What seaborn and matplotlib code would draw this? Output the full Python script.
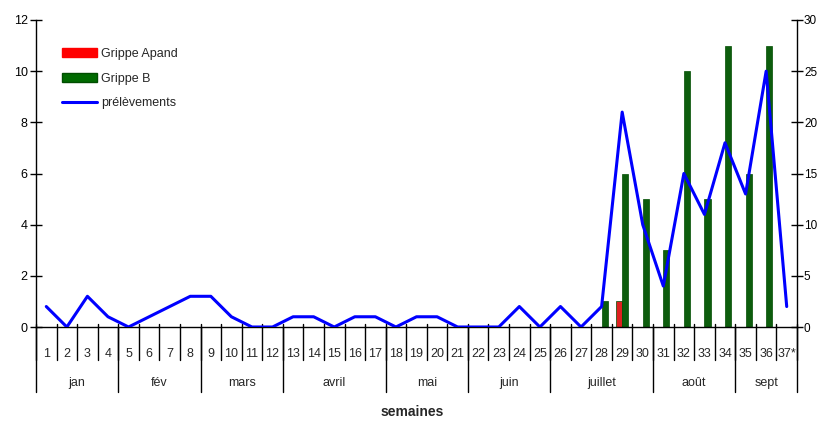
import numpy as np
import pandas as pd
import matplotlib
matplotlib.use("Agg")
import matplotlib.pyplot as plt
import matplotlib.transforms as mtransforms
from matplotlib.patches import Patch
from matplotlib.lines import Line2D
import seaborn as sns

weeks = [str(i) for i in range(1, 37)] + ["37*"]
grippe_a = [0] * 28 + [1] + [0] * 8
grippe_b = [0] * 27 + [1, 6, 5, 3, 10, 5, 11, 6, 11, 0]
prelevements = [2, 0, 3, 1, 0, 1, 2, 3, 3, 1, 0, 0, 1, 1, 0, 1, 1, 0, 1, 1,
                0, 0, 0, 2, 0, 2, 0, 2, 21, 10, 4, 15, 11, 18, 13, 25, 2]
months = ["jan", "fév", "mars", "avril", "mai", "juin", "juillet", "août", "sept"]
month_weeks = [4, 4, 4, 5, 4, 4, 5, 4, 3]
series_names = ["Grippe Apand", "Grippe B"]
line_name = "prélèvements"

sns.set_style("white")
plt.rcParams['font.family'] = ['Liberation Sans', 'DejaVu Sans']

W, H = 820, 421
fig = plt.figure(figsize=(W / 100, H / 100), dpi=100)
L, R, T, B = 36, 797, 20, 327
ax = fig.add_axes([L / W, 1 - B / H, (R - L) / W, (B - T) / H])

df = pd.DataFrame({
    "week": weeks * 2,
    "count": grippe_a + grippe_b,
    "type": [series_names[0]] * len(weeks) + [series_names[1]] * len(weeks),
})
colors = {series_names[0]: "#ff0000", series_names[1]: "#006a00"}
sns.barplot(data=df, x="week", y="count", hue="type", order=weeks,
            hue_order=series_names, palette=colors, width=0.6,
            edgecolor="#004d00", linewidth=0.5, ax=ax, legend=False)
for p in ax.patches:
    if p.get_facecolor()[0] > 0.9:
        p.set_edgecolor("#dd0000")

ax2 = ax.twinx()
pos = np.arange(len(weeks))
sns.lineplot(x=pos, y=prelevements, ax=ax2, color="#0000ff", linewidth=2.2)

ax.set_xlim(-0.5, len(weeks) - 0.5)
ax.set_ylim(0, 12)
ax.set_yticks(np.arange(0, 13, 2))
ax2.set_ylim(0, 30)
ax2.set_yticks(np.arange(0, 31, 5))
ax.set_xlabel("")
ax.set_ylabel("")
ax2.set_xlabel("")
ax2.set_ylabel("")

for a in (ax, ax2):
    a.spines["top"].set_visible(False)
    for s in a.spines.values():
        s.set_color("black")
        s.set_linewidth(1.0)
ax.spines["right"].set_visible(False)
ax2.spines["left"].set_visible(False)
ax2.spines["bottom"].set_visible(False)

ax.tick_params(axis="y", direction="inout", length=8, width=1, labelsize=9,
               colors="black", left=True, pad=2)
ax2.tick_params(axis="y", direction="inout", length=8, width=1, labelsize=8.5,
                colors="black", right=True, pad=1)
ax.set_xticks(pos)
ax.set_xticklabels(weeks, fontsize=9)
ax.tick_params(axis="x", length=0, pad=15)

trans = mtransforms.blended_transform_factory(ax.transData, ax.transAxes)
hpx = B - T
for i in range(len(weeks) + 1):
    ax.plot([i - 0.5, i - 0.5], [3 / hpx, -33 / hpx], color="black", lw=1,
            transform=trans, clip_on=False)
start = 0
for m, n in zip(months, month_weeks):
    end = start + n
    ax.plot([end - 0.5, end - 0.5], [0, -65 / hpx], color="black", lw=1,
            transform=trans, clip_on=False)
    ax.text((start + end - 1) / 2, -56 / hpx, m, transform=trans,
            ha="center", va="center", fontsize=9)
    start = end
ax.plot([-0.5, -0.5], [0, -65 / hpx], color="black", lw=1,
        transform=trans, clip_on=False)

fig.text(412 / W, 1 - 412 / H, "semaines", ha="center", va="center",
         fontsize=10, fontweight="bold")

handles = [Patch(facecolor="#ff0000", edgecolor="#ff0000"),
           Patch(facecolor="#006a00", edgecolor="#004d00"),
           Line2D([0], [0], color="#0000ff", lw=2.2)]
ax2.legend(handles, series_names + [line_name], loc="upper left",
           bbox_to_anchor=(0.02, 0.945), frameon=False, fontsize=9,
           handlelength=2.8, labelspacing=1.0, handletextpad=0.3)

fig.savefig("out.png", dpi=100)
